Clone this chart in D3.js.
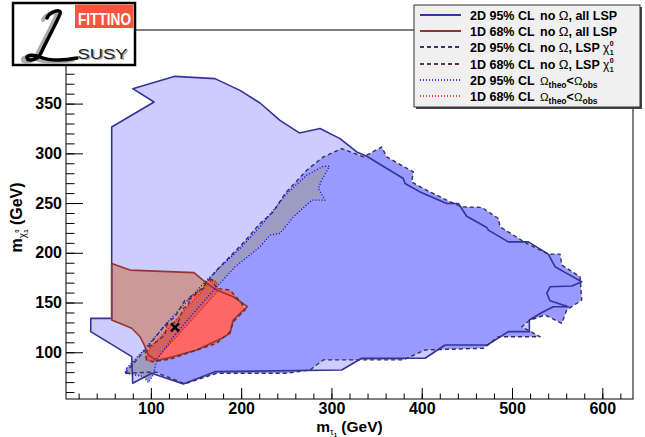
<!DOCTYPE html>
<html>
<head>
<meta charset="utf-8">
<script src="https://cdn.jsdelivr.net/npm/d3@7"></script>
<style>
  body { margin: 0; background: #fff; }
  svg text { font-family: "Liberation Sans", Arial, Helvetica, sans-serif; }
</style>
</head>
<body>
<script>
const w = 645;
const h = 437;
const frame = { left: 66, right: 633, top: 30, bottom: 399 };

// axis ranges and ticks (GeV)
const xDomain = [6, 634];
const yDomain = [53, 424];
const xTicks = [100, 200, 300, 400, 500, 600];
const yTicks = [100, 150, 200, 250, 300, 350, 400];
const xMinor = d3.range(20, 634, 20);
const yMinor = d3.range(60, 424, 10);

// contours, points are [m_stau, m_chi]
const all2D = [[56.6,326.5],[103.5,351.6],[79.9,365],[126.7,377.4],[171,375.1],[198.7,363.3],[220.9,350.6],[243,333.2],[264.4,320.5],[287.4,324.9],[309.5,314.8],[328,301.4],[339.1,297.1],[379.6,274.7],[381.5,269.7],[398.1,261.2],[427.7,249.6],[440.6,249.6],[449.8,236.8],[472,225.5],[473.8,222.8],[495.9,211],[518.1,211],[540.2,198.7],[547.7,185.9],[560.6,179.3],[577.2,170.9],[566.2,166.6],[542.1,165.8],[538.5,159.2],[542.1,151.8],[562.4,145.8],[545.8,145.8],[534.7,140.7],[519.2,132.4],[519.2,120.7],[495.9,120.7],[472.7,107.3],[425.8,107.3],[403.7,94],[333.5,94],[311.4,82.2],[171,80.5],[135.9,68.2],[100.9,78.9],[79.9,68.9],[78.8,95.6],[33.4,120.7],[33.4,134.1],[56.6,134.1]];

const chi2D = [[71.4,78.9],[95.4,104],[115.7,127.4],[126.7,135.7],[137.8,152.5],[145.2,154.2],[158.1,165.8],[172.9,182.6],[202.4,210],[220.9,229.5],[235.6,241.1],[248.6,259.6],[272.6,283],[291,296.4],[311.4,304.8],[335.3,296.4],[355.7,306.4],[361.2,296.4],[390.7,281.3],[388.9,271.3],[401.8,264.6],[427.7,252.9],[444.3,246.2],[466.5,245.6],[484.9,234.5],[486.8,226.1],[516.3,209.4],[540.2,198.7],[553.2,198.7],[555.1,187.6],[575.4,175.9],[577.2,152.5],[560.6,142.5],[555.1,129.1],[536.6,137.4],[520,132.4],[510.8,125.7],[531,115.6],[484.9,115.6],[468.2,104],[403.7,102.3],[379.6,92.3],[291,92.3],[276.3,82.2],[250.5,78.9],[172.9,78.9],[137.8,68.2],[104.6,80.2]];

const omega2D = [[73.2,83.9],[95.4,105.6],[117.5,129.1],[135.9,147.5],[161.9,172.6],[200.6,206],[220.9,226.1],[250.5,259.6],[272.6,278],[291,287],[297.7,287],[289.2,273],[285.5,264.6],[292.9,252.9],[278.2,252.9],[257.8,236.1],[243,219.5],[232,217.8],[220.9,206],[193.2,185.9],[172.9,165.8],[147,139.1],[124.9,115.6],[106.5,92.3],[102.7,77.2],[97.2,69.5],[91.6,75.5],[71.4,78.9]];

const all1D = [[56.6,189.3],[76.9,182.6],[147.8,180.1],[161.9,169.3],[172.9,162.5],[191.3,155.8],[207,145.8],[200.6,140.7],[191.3,132.4],[187.7,119.1],[178.5,114],[150.8,102.3],[121.2,94.8],[106.5,91.8],[97.2,97.3],[93.5,105.6],[88,115.6],[78.8,124.1],[56.6,132.4]];

const chi1D = [[95.4,92.3],[93.5,99],[99,105.6],[115.7,117.4],[117.5,127.4],[130.4,130.7],[135.9,144.2],[141.5,147.5],[143.4,155.8],[158.1,164.2],[160,169.3],[167.4,173.3],[172.9,164.2],[187.7,162.5],[200.6,149.2],[204.3,142.5],[191.3,130.7],[187.7,120.7],[172.9,109],[150.8,102.3],[121.2,93],[102.7,90.5]];

const omega1D = [[94.6,92.3],[99,104.3],[121.2,126.4],[143.4,148.5],[165.5,170.6],[167.7,173.1],[173.3,170.6],[173.3,160.5],[154.4,141.5],[132.3,119.4],[110.1,97.3],[101.3,90.2]];

const bestFit = [126.7, 125];

const legendLabels = [
  "2D 95% CL", "1D 68% CL", "2D 95% CL", "1D 68% CL", "2D 95% CL", "1D 68% CL"
];

const svg = d3.select("body")
  .append("svg")
  .attr("width", w)
  .attr("height", h);

const x = d3.scaleLinear().domain(xDomain).range([frame.left, frame.right]);
const y = d3.scaleLinear().domain(yDomain).range([frame.bottom, frame.top]);

const shape = d3.line()
  .x(d => x(d[0]))
  .y(d => y(d[1]))
  .curve(d3.curveLinearClosed);

// fills first, outlines drawn over all of them
const fills = [
  [all2D, "#ccccff"],
  [chi2D, "#9999ff"],
  [omega2D, "#9b9bc4"],
  [all1D, "#cc9999"],
  [chi1D, "#ff6666"],
  [omega1D, "#d46060"]
];
fills.forEach(([d, c]) => {
  svg.append("path").attr("d", shape(d)).attr("fill", c).attr("stroke", "none");
});

const outlines = [
  [all2D, "#333399", null, 1.6],
  [chi2D, "#333355", "4,3", 1.4],
  [all1D, "#993333", null, 1.6],
  [chi1D, "#553333", "4,3", 1.4],
  [omega2D, "#0000ff", "1,2", 1.3],
  [omega1D, "#ff0000", "1,2", 1.3]
];
outlines.forEach(([d, c, dash, sw]) => {
  svg.append("path")
    .attr("d", shape(d))
    .attr("fill", "none")
    .attr("stroke", c)
    .attr("stroke-width", sw)
    .attr("stroke-dasharray", dash)
    .attr("stroke-linejoin", "round");
});

// best fit point
const bx = x(bestFit[0]), by = y(bestFit[1]);
svg.append("path")
  .attr("d", `M${bx - 4},${by - 4}L${bx + 4},${by + 4}M${bx - 4},${by + 4}L${bx + 4},${by - 4}`)
  .attr("stroke", "#000")
  .attr("stroke-width", 2.6);

// frame
svg.append("rect")
  .attr("x", frame.left).attr("y", frame.top)
  .attr("width", frame.right - frame.left)
  .attr("height", frame.bottom - frame.top)
  .attr("fill", "none")
  .attr("stroke", "#000")
  .attr("stroke-width", 1);

// axes (ticks point inward like ROOT)
svg.append("g")
  .attr("transform", `translate(0, ${frame.bottom})`)
  .call(d3.axisBottom(x).tickValues(xTicks).tickSize(-11).tickSizeOuter(0).tickPadding(4));
svg.append("g")
  .attr("transform", `translate(0, ${frame.bottom})`)
  .call(d3.axisBottom(x).tickValues(xMinor).tickSize(-5.5).tickSizeOuter(0).tickFormat(""));

svg.append("g")
  .attr("transform", `translate(${frame.left}, 0)`)
  .call(d3.axisLeft(y).tickValues(yTicks).tickSize(-17).tickSizeOuter(0).tickPadding(4));
svg.append("g")
  .attr("transform", `translate(${frame.left}, 0)`)
  .call(d3.axisLeft(y).tickValues(yMinor).tickSize(-8.5).tickSizeOuter(0).tickFormat(""));

svg.selectAll(".domain").remove();
svg.selectAll(".tick line").attr("stroke", "#000");
svg.selectAll(".tick text")
  .attr("font-family", "Liberation Sans, Arial, sans-serif")
  .attr("font-size", 16)
  .attr("font-weight", "bold")
  .attr("fill", "#000");

// axis titles
const xTitle = svg.append("text")
  .attr("x", (frame.left + frame.right) / 2)
  .attr("y", 432)
  .attr("text-anchor", "middle")
  .attr("font-size", 15.5)
  .attr("font-weight", "bold");
xTitle.append("tspan").text("m");
xTitle.append("tspan").text("τ").attr("font-size", 9).attr("font-weight", "normal").attr("dy", 3);
xTitle.append("tspan").text("1").attr("font-size", 6).attr("dy", 2);
xTitle.append("tspan").text(" (GeV)").attr("dy", -5);

const yTitle = svg.append("text")
  .attr("transform", `translate(22, ${(frame.top + frame.bottom) / 2 + 3}) rotate(-90)`)
  .attr("text-anchor", "middle")
  .attr("font-size", 16)
  .attr("font-weight", "bold");
yTitle.append("tspan").text("m");
yTitle.append("tspan").text("χ").attr("font-size", 10).attr("font-weight", "normal").attr("dy", 4);
yTitle.append("tspan").text("0").attr("font-size", 6).attr("dy", -7).attr("dx", 0.3);
yTitle.append("tspan").text("1").attr("font-size", 6).attr("dx", -3.4).attr("dy", 9);
yTitle.append("tspan").text(" (GeV)").attr("dy", -6);

// legend
const lg = svg.append("g");
lg.append("rect").attr("x", 416).attr("y", 7).attr("width", 226).attr("height", 102).attr("fill", "#444");
lg.append("rect").attr("x", 414).attr("y", 5).attr("width", 226).attr("height", 102)
  .attr("fill", "#f0f0f0").attr("stroke", "#333").attr("stroke-width", 1);

const legendStyle = [
  ["#3333aa", null], ["#993333", null], ["#333366", "4,3"],
  ["#663333", "4,3"], ["#0000ff", "1,2"], ["#ff0000", "1,2"]
];
const rowY = [15, 31, 47, 64, 80, 96];

function rich(yb, parts) {
  const t = lg.append("text")
    .attr("x", 470).attr("y", yb)
    .attr("font-size", 12.5).attr("font-weight", "bold").attr("fill", "#000");
  parts.forEach(p => {
    const s = t.append("tspan").text(p.t);
    if (p.x != null) s.attr("x", p.x);
    if (p.dx) s.attr("dx", p.dx);
    if (p.dy) s.attr("dy", p.dy);
    if (p.fs) s.attr("font-size", p.fs);
    if (p.fw) s.attr("font-weight", p.fw);
  });
}

legendLabels.forEach((lab, i) => {
  const cy = rowY[i];
  lg.append("line")
    .attr("x1", 420).attr("x2", 461).attr("y1", cy).attr("y2", cy)
    .attr("stroke", legendStyle[i][0])
    .attr("stroke-width", i < 4 ? 1.8 : 1.5)
    .attr("stroke-dasharray", legendStyle[i][1]);
  const yb = cy + 4.5;
  if (i < 2) {
    rich(yb, [{ t: lab }, { t: "no ", x: 540 }, { t: "Ω", fw: "normal", fs: 13 }, { t: ", all LSP" }]);
  } else if (i < 4) {
    rich(yb, [{ t: lab }, { t: "no ", x: 540 }, { t: "Ω", fw: "normal", fs: 13 }, { t: ", LSP " },
      { t: "χ", fw: "normal", fs: 12 }, { t: "0", fs: 7, dx: 0.5, dy: -5.5 }, { t: "1", fs: 7, dx: -3.9, dy: 8.5 }]);
  } else {
    rich(yb, [{ t: lab }, { t: "Ω", x: 540, fw: "normal", fs: 11.5 }, { t: "theo", fs: 8.5, dy: 3 },
      { t: "<", dy: -3 }, { t: "Ω", fw: "normal", fs: 11.5 }, { t: "obs", fs: 8.5, dy: 3 }]);
  }
});

// Fittino logo
const logo = svg.append("g");
logo.append("rect").attr("x", 13).attr("y", 3).attr("width", 122).attr("height", 62)
  .attr("fill", "#fff").attr("stroke", "#000").attr("stroke-width", 2.5);
logo.append("rect").attr("x", 75).attr("y", 4.5).attr("width", 58.5).attr("height", 23.5).attr("fill", "#f8533d");
logo.append("text").attr("x", 78).attr("y", 24.5)
  .attr("font-size", 17).attr("font-weight", "bold").attr("fill", "#fff")
  .attr("textLength", 53).attr("lengthAdjust", "spacingAndGlyphs")
  .text("FITTINO");
const scriptL = "M47,18 C50,11 62,8 60,14 C57,22 47,40 41,53 C38,60 28,62 27,58 C26,55 33,54 40,57 C50,61 62,61 77,58";
logo.append("path").attr("d", scriptL).attr("transform", "translate(-4,2)")
  .attr("fill", "none").attr("stroke", "#aaa").attr("stroke-width", 4).attr("stroke-linecap", "round");
logo.append("path").attr("d", scriptL)
  .attr("fill", "none").attr("stroke", "#000").attr("stroke-width", 3.5).attr("stroke-linecap", "round");
logo.append("text").attr("x", 79).attr("y", 60)
  .attr("font-size", 15).attr("fill", "#aaa")
  .attr("textLength", 50).attr("lengthAdjust", "spacingAndGlyphs").text("SUSY");
logo.append("text").attr("x", 77.5).attr("y", 59)
  .attr("font-size", 15).attr("fill", "#222")
  .attr("textLength", 50).attr("lengthAdjust", "spacingAndGlyphs").text("SUSY");
</script>
</body>
</html>
